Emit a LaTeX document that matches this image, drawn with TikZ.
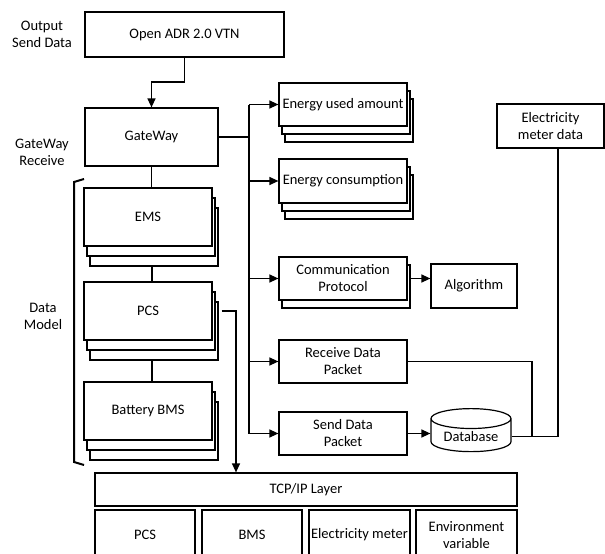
\documentclass[tikz,border=0pt]{standalone}
\usepackage{fontspec}
\setmainfont{Carlito}
\usetikzlibrary{shapes.geometric,shadows,arrows.meta}

\begin{document}
\begin{tikzpicture}[
    x=1pt, y=-1pt,
    line width=1.2pt,
    every node/.style={font=\fontsize{14.5}{17}\selectfont},
    box/.style={rectangle, draw, fill=white, inner sep=1pt, align=center},
    stackone/.style={box, copy shadow={shadow xshift=3pt, shadow yshift=-8pt}},
    stacktwo/.style={box, copy shadow={shadow xshift=6pt, shadow yshift=-16pt},
                     copy shadow={shadow xshift=3pt, shadow yshift=-8pt}},
    stackdm/.style={box, copy shadow={shadow xshift=6pt, shadow yshift=-20pt},
                    copy shadow={shadow xshift=3pt, shadow yshift=-10pt}},
    arr/.style={-{Triangle[length=9pt,width=8pt]}},
    lbl/.style={align=center}
  ]
    \clip (0,0) rectangle (605,554);
    % side labels
    \node[lbl] (lout) at (42,34) {Output\\Send Data};
    \node[lbl] (lgw) at (42,152) {GateWay\\Receive};
    \node[lbl] (ldm) at (43,316) {Data\\Model};
    % left column
    \node[box, minimum width=199pt, minimum height=45pt] (adr) at (184.5,34.5) {Open ADR 2.0 VTN};
    \node[box, minimum width=133pt, minimum height=58pt] (gw) at (151.5,137) {GateWay};
    \node[stackdm, minimum width=128pt, minimum height=58pt] (ems) at (148,217) {EMS};
    \node[stackdm, minimum width=128pt, minimum height=58pt] (pcs) at (148,311) {PCS};
    \node[stackdm, minimum width=128pt, minimum height=58pt] (bms) at (148,411) {Battery BMS};
    % right column
    \node[stacktwo, minimum width=128pt, minimum height=43pt] (used) at (343,104.5) {Energy used amount};
    \node[stacktwo, minimum width=128pt, minimum height=44pt] (cons) at (343,181) {Energy consumption};
    \node[stackone, minimum width=128pt, minimum height=43pt] (comm) at (343,278.5) {Communication\\Protocol};
    \node[box, minimum width=86pt, minimum height=44pt] (alg) at (474,286) {Algorithm};
    \node[box, minimum width=107pt, minimum height=44pt] (meter) at (550.5,126) {Electricity\\meter data};
    \node[box, minimum width=128pt, minimum height=43pt] (recv) at (343,361.5) {Receive Data\\Packet};
    \node[box, minimum width=128pt, minimum height=43pt] (send) at (343,433.5) {Send Data\\Packet};
    \node[cylinder, draw, fill=white, shape border rotate=90, aspect=0.35,
          minimum width=80pt, minimum height=43pt, inner sep=1pt] (db) at (471,436.5) {\raisebox{-5pt}{Database}};
    % bottom layer
    \node[box, minimum width=422pt, minimum height=33pt] (tcp) at (306,489.5) {TCP/IP Layer};
    \node[box, minimum width=100pt, minimum height=50pt] (bpcs) at (145,535) {PCS};
    \node[box, minimum width=100pt, minimum height=50pt] (bbms) at (252,535) {BMS};
    \node[box, minimum width=101pt, minimum height=50pt] (bmeter) at (359.5,535) {Electricity meter};
    \node[box, minimum width=101pt, minimum height=50pt] (benv) at (466.5,535) {Environment\\variable};
    % connectors
    \draw[arr] (adr.south) -- (adr.south |- 0,82) -| (gw.north);
    \draw (gw.south) -- (gw.south |- ems.north);
    \draw ([xshift=4pt,yshift=-20pt]ems.south) -- ([xshift=4pt]pcs.north);
    \draw ([xshift=4pt,yshift=-20pt]pcs.south) -- ([xshift=4pt]bms.north);
    \draw[arr] ([xshift=9pt]pcs.east) -| (tcp.north -| 236,0);
    \draw (gw.east) -- (gw.east -| 249,0);
    \draw (used.west -| 249,0) -- (send.west -| 249,0);
    \foreach \n in {used,cons,comm,recv,send} {
      \draw[arr] (\n.west -| 249,0) -- (\n.west);
    }
    \draw[arr] ([xshift=3pt]comm.east) -- (alg.west |- comm.east);
    \draw[arr] (send.east) -- (db.west |- send.east);
    \draw (recv.east) -| (db.east -| 532,0);
    \draw (db.east) -| ([xshift=7.5pt]meter.south);
    % data model bracket
    \draw[line width=2pt] (84,179) -- (74,182) -- (74,462) -- (84,465);
  \end{tikzpicture}
\end{document}
